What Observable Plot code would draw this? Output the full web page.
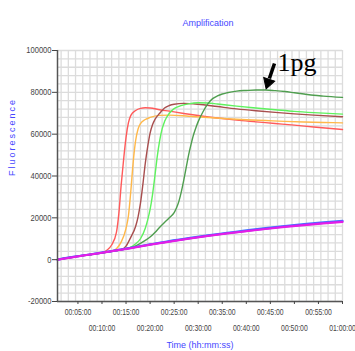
<!DOCTYPE html>
<html><head><meta charset="utf-8">
<script src="https://cdn.jsdelivr.net/npm/d3@7"></script>
<script src="https://cdn.jsdelivr.net/npm/@observablehq/plot@0.6"></script>
<style>
html,body{margin:0;padding:0;background:#fff;}
#chart{width:355px;height:351px;}
</style></head><body><div id="chart"></div>
<script>
// ---- data (time in minutes, fluorescence) ----
const redTime   = [0.75, 4, 8, 10, 11, 12, 13, 13.5, 14, 14.5, 15, 15.5, 16, 17, 18, 19, 20, 22, 24, 27, 30, 34, 38, 42, 46, 50, 54, 60];
const redFluor  = [0, 1300, 2600, 3300, 4500, 7000, 13000, 22000, 36000, 48000, 58500, 65500, 69000, 71300, 72300, 72600, 72500, 71700, 71000, 69900, 68900, 67700, 66700, 65900, 65100, 64300, 63400, 62200];

const orangeTime  = [0.75, 4, 8, 12, 13, 14, 15, 15.5, 16, 16.5, 17, 17.5, 18, 19, 20, 22, 24, 28, 32, 36, 40, 44, 48, 52, 56, 60];
const orangeFluor = [0, 1300, 2600, 4100, 5200, 8500, 15000, 21000, 33000, 47000, 57000, 62500, 65000, 67000, 68000, 69000, 69100, 68600, 68000, 67400, 66900, 66500, 66100, 65800, 65600, 65400];

const brownTime  = [0.75, 4, 8, 12, 14, 15, 16, 17, 17.5, 18, 18.5, 19, 19.5, 20, 20.5, 21, 22, 23, 24, 25, 27, 30, 34, 38, 42, 46, 50, 54, 60];
const brownFluor = [0, 1300, 2600, 4000, 4800, 6500, 10800, 16000, 20500, 27000, 36000, 46000, 54000, 60500, 64500, 67000, 70000, 72500, 73700, 74300, 74700, 74300, 73200, 72100, 71200, 70400, 69700, 69100, 68300];

const greenTime  = [0.75, 4, 8, 12, 15, 16, 17, 18, 19, 19.5, 20, 20.5, 21, 21.5, 22, 22.5, 23, 24, 25, 26, 27, 28, 30, 32, 34, 38, 42, 46, 50, 54, 60];
const greenFluor = [0, 1300, 2600, 4000, 5300, 6000, 7600, 10000, 15000, 19000, 24000, 31000, 40000, 49500, 57000, 62500, 66000, 70000, 72200, 73300, 74000, 74500, 75000, 74900, 74400, 73400, 72500, 71700, 70900, 70300, 69600];

const darkGreenTime  = [0.75, 4, 8, 12, 16, 17, 18, 19, 20, 21, 22, 23, 24, 25, 25.5, 26, 26.5, 27, 27.5, 28, 28.5, 29, 29.5, 30, 31, 32, 33, 34, 35, 36, 38, 40, 42, 44, 46, 48, 50, 52, 54, 56, 60];
const darkGreenFluor = [0, 1300, 2600, 4000, 5800, 6600, 7800, 9200, 10800, 13000, 15500, 17800, 20000, 22500, 24800, 28000, 32500, 38000, 44000, 50000, 55000, 59500, 63000, 66000, 70700, 74500, 77000, 78300, 79200, 79800, 80600, 80900, 81100, 81100, 80800, 80400, 79800, 79200, 78600, 78200, 77600];

const baseTime     = [0.75, 4, 8, 12, 16, 20, 24, 28, 32, 36, 40, 44, 48, 52, 56, 60];
const blueFluor    = [0, 1300, 2700, 4100, 5700, 7300, 8900, 10300, 11600, 12800, 14000, 15100, 16100, 17000, 17800, 18600];
const purpleFluor  = [0, 1300, 2600, 4000, 5600, 7200, 8700, 10100, 11400, 12600, 13700, 14800, 15800, 16700, 17500, 18200];
const magentaFluor = [0, 1200, 2600, 4000, 5500, 7100, 8600, 10000, 11300, 12500, 13600, 14600, 15600, 16500, 17300, 18000];

const seriesNames = ["red", "orange", "brown", "green", "darkGreen", "blue", "purple", "magenta"];
const seriesTimes = [redTime, orangeTime, brownTime, greenTime, darkGreenTime, baseTime, baseTime, baseTime];
const seriesFluor = [redFluor, orangeFluor, brownFluor, greenFluor, darkGreenFluor, blueFluor, purpleFluor, magentaFluor];

const xTicksOdd  = [5, 15, 25, 35, 45, 55];
const xLabelsOdd = ["00:05:00", "00:15:00", "00:25:00", "00:35:00", "00:45:00", "00:55:00"];
const xTicksEven  = [10, 20, 30, 40, 50, 60];
const xLabelsEven = ["00:10:00", "00:20:00", "00:30:00", "00:40:00", "00:50:00", "01:00:00"];
const yTicks  = [-20000, 0, 20000, 40000, 60000, 80000, 100000];
const yLabels = ["-20000", "0", "20000", "40000", "60000", "80000", "100000"];

const annotationText = [{t: 46.5, f: 90400, label: "1pg"}];
const arrowShaft = [{t1: 45.86, f1: 93800, t2: 44.8, f2: 86600}];
const arrowHead = [{t: 44.55, f: 84700}];

// ---- styles ----
const colors = {red: "#ff5a5a", orange: "#ffb84a", brown: "#a84e4e", green: "#5ef25e", darkGreen: "#4f9e4f",
                blue: "#3f7bff", purple: "#9b30ff", magenta: "#e51ee5"};
const widths = {red: 1.4, orange: 1.4, brown: 1.4, green: 1.4, darkGreen: 1.4, blue: 2.2, purple: 2, magenta: 2};

const rows = seriesNames.map((name, i) => seriesTimes[i].map((t, j) => ({series: name, t, f: seriesFluor[i][j]})));

const tickFont = "'Liberation Sans', Arial, sans-serif";
const fmtOdd = d => xLabelsOdd[xTicksOdd.indexOf(d)];
const fmtEven = d => xLabelsEven[xTicksEven.indexOf(d)];
const fmtY = d => yLabels[yTicks.indexOf(d)];

const gridX = d3.range(1.5, 60.01, 1.5);
const gridY = d3.range(-20000, 100001, 4000);

const chart = Plot.plot({
  width: 355, height: 351,
  marginLeft: 57, marginRight: 13, marginTop: 50, marginBottom: 50,
  x: {domain: [0.75, 60]},
  y: {domain: [-20000, 100000]},
  style: {background: "#fff", color: "#444", fontFamily: tickFont, fontSize: "9px", overflow: "visible"},
  marks: [
    Plot.ruleY(gridY, {stroke: "#dcdcdc", strokeWidth: 1.3}),
    Plot.ruleX(gridX, {stroke: "#dcdcdc", strokeWidth: 1.3}),
    ...rows.map((r, i) => Plot.line(r, {x: "t", y: "f", curve: "monotone-x",
        stroke: colors[seriesNames[i]], strokeWidth: widths[seriesNames[i]]})),
    Plot.ruleX([0.75], {stroke: "#555", strokeWidth: 1.5}),
    Plot.ruleY([-20000], {stroke: "#555", strokeWidth: 1.5}),
    Plot.axisY(yTicks, {tickSize: 5, tickPadding: 1, tickFormat: fmtY, label: null}),
    Plot.axisX(xTicksOdd, {tickSize: 3, tickPadding: 4.5, tickFormat: fmtOdd, label: null}),
    Plot.axisX(xTicksEven, {tickSize: 3, tickPadding: 20.5, tickFormat: fmtEven, label: null}),
    Plot.text(["Amplification"], {text: d => d, frameAnchor: "top", dx: 8, dy: -31, fill: "#4646ff",
        fontFamily: "'Liberation Sans', Arial, sans-serif", fontSize: 9}),
    Plot.text(["Fluorescence"], {text: d => d, frameAnchor: "left", dx: -45, rotate: -90, fill: "#4646ff",
        fontFamily: "'Liberation Sans', Arial, sans-serif", fontSize: 9}),
    Plot.text(["Time (hh:mm:ss)"], {text: d => d, frameAnchor: "bottom", dy: 46, fill: "#4646ff",
        fontFamily: "'Liberation Sans', Arial, sans-serif", fontSize: 9}),
    Plot.text(annotationText, {x: "t", y: "f", text: "label", textAnchor: "start", lineAnchor: "bottom",
        fontSize: 26, fontFamily: "'Liberation Serif', 'Times New Roman', serif", fill: "#000"}),
    Plot.link(arrowShaft, {x1: "t1", y1: "f1", x2: "t2", y2: "f2", stroke: "#000", strokeWidth: 3.5}),
    Plot.dot(arrowHead, {x: "t", y: "f", symbol: "triangle2", r: 5.5, rotate: 198, fill: "#000", stroke: "#000", strokeWidth: 1})
  ]
});

d3.select(chart).selectAll("text").filter(function() { return this.textContent === "Fluorescence"; })
  .attr("letter-spacing", "2px");

// condense tick labels horizontally (narrow font look); scale about the text's own anchor
const allLabels = new Set([...xLabelsOdd, ...xLabelsEven, ...yLabels]);
d3.select(chart).selectAll("text").filter(function() { return allLabels.has(this.textContent); })
  .each(function() {
    const el = d3.select(this);
    const isY = yLabels.includes(this.textContent);
    const s = isY ? 0.84 : 0.76;
    const px = parseFloat(el.attr("x"));
    const x = Number.isFinite(px) ? px : 0;
    const tr = el.attr("transform") || "";
    el.attr("transform", `${tr} translate(${x},0) scale(${s},1) translate(${-x},0)`);
  });

document.getElementById("chart").appendChild(chart);
</script></body></html>
